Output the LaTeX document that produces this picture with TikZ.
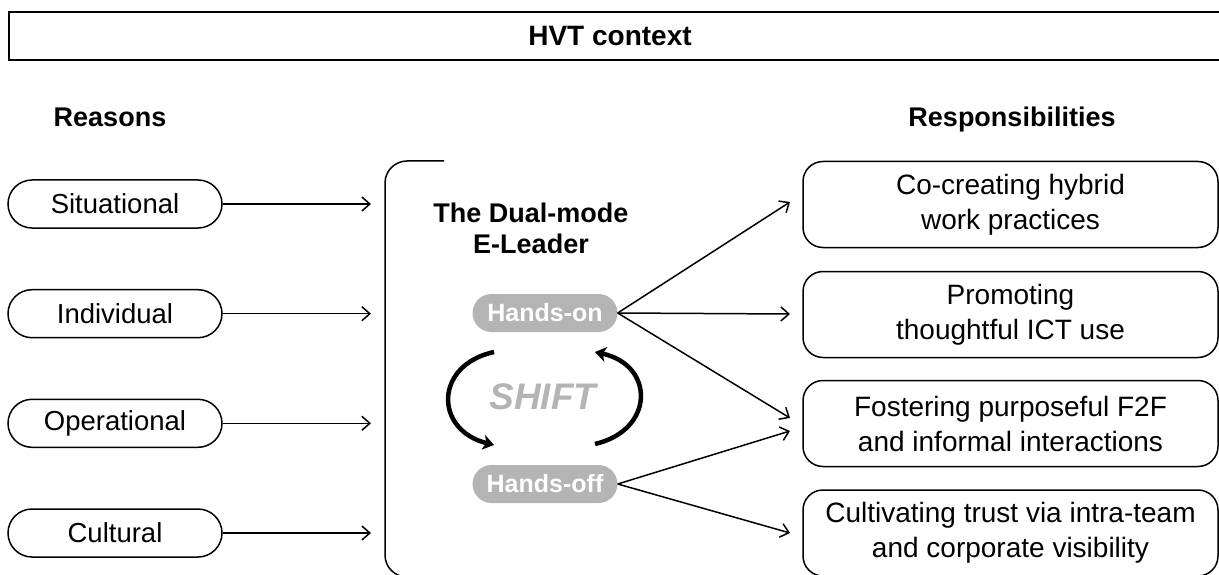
\documentclass[tikz,border=0pt]{standalone}
\usepackage{fontspec}
\setmainfont{Liberation Sans}
\usetikzlibrary{arrows.meta,calc}
\definecolor{pillgray}{HTML}{B4B4B4}
\tikzset{
  reason/.style={draw, line width=1.5pt, rounded corners=24pt, minimum width=214pt, minimum height=48pt, inner sep=0pt, font=\fontsize{27.5}{32}\selectfont},
  resp/.style={draw, line width=1.5pt, rounded corners=20pt, minimum width=415pt, minimum height=86pt, align=center, inner sep=0pt, font=\fontsize{28}{35}\selectfont},
  modepill/.style={fill=pillgray, rounded corners=19pt, minimum width=145pt, minimum height=38pt, text=white, font=\bfseries\fontsize{25}{29}\selectfont, inner sep=0pt},
  conn/.style={line width=1.5pt, -{Straight Barb[length=8pt,width=14pt]}},
  shiftarc/.style={line width=4.5pt, -{Stealth[length=11pt,width=15pt,inset=3pt]}},
  headtext/.style={font=\bfseries\fontsize{27}{32}\selectfont},
}
\begin{document}
\begin{tikzpicture}[x=1pt,y=-1pt]
\useasboundingbox (0,0) rectangle (1219,575);
% context box
\draw[line width=1.5pt] (1225,12) -- (9,12) -- (9,60) -- (1225,60);
\node[font=\bfseries\fontsize{28}{33}\selectfont] (ctx) at (610,36) {HVT context};
% headings
\node[headtext, anchor=base] (reasons) at (110,127) {Reasons};
\node[headtext, anchor=base] (resps) at (1012,127) {Responsibilities};
% reasons
\node[reason] (r1) at (115,204) {Situational};
\node[reason] (r2) at (115,313.7) {Individual};
\node[reason] (r3) at (115,423.3) {Operational};
\node[reason] (r4) at (115,533) {Cultural};
\coordinate (t1) at (371,204);
\coordinate (t2) at (371,313.7);
\coordinate (t3) at (371,423.3);
\coordinate (t4) at (371,533);
\draw[conn] (r1.east) -- (t1);
\draw[conn] (r2.east) -- (t2);
\draw[conn] (r3.east) -- (t3);
\draw[conn] (r4.east) -- (t4);
% bracket
\draw[line width=1.5pt, rounded corners=22pt] (444,161) -| (385,577) -- (444,577);
% title
\node[align=center, font=\bfseries\fontsize{27}{31}\selectfont] (title) at (531,228) {The Dual-mode\\E-Leader};
% modes
\node[modepill] (hon) at (545,313) {Hands-on};
\node[modepill] (hoff) at (545,484) {Hands-off};
\node[font=\bfseries\itshape\fontsize{37}{40}\selectfont, text=pillgray] (shift) at (543,397) {SHIFT};
\coordinate (a1) at (494,352);
\coordinate (a2) at (494,445);
\coordinate (a3) at (595,444);
\coordinate (a4) at (595,352);
\draw[shiftarc] (a1) .. controls (434,365) and (434,430) .. (a2);
\draw[shiftarc] (a3) .. controls (655,430) and (655,365) .. (a4);
% responsibilities
\node[resp] (b1) at (1010.5,204.5) {Co-creating hybrid\\work practices};
\node[resp] (b2) at (1010.5,314.5) {Promoting\\thoughtful ICT use};
\node[resp] (b3) at (1010.5,423.5) {Fostering purposeful F2F\\and informal interactions};
\node[resp] (b4) at (1010.5,533) {Cultivating trust via intra-team\\and corporate visibility};
\coordinate (e1) at (790,202);
\coordinate (e2) at (790,314);
\coordinate (e3) at (790,418);
\coordinate (e4) at (790,431);
\coordinate (e5) at (790,533);
\draw[conn] (hon.east) -- (e1);
\draw[conn] (hon.east) -- (e2);
\draw[conn] (hon.east) -- (e3);
\draw[conn] (hoff.east) -- (e4);
\draw[conn] (hoff.east) -- (e5);
\end{tikzpicture}
\end{document}
